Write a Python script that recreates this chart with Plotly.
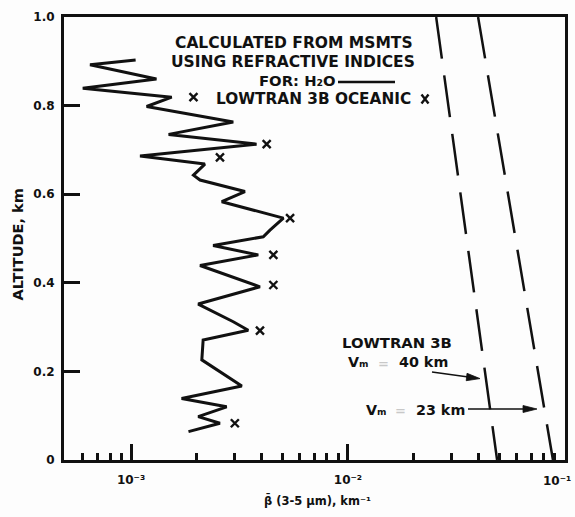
import plotly.graph_objects as go

# ---- data ----
# measured profile (solid line): extinction (km^-1) vs altitude (km)
msmt_beta = [1.05e-3, 6.47e-4, 1.31e-3, 5.99e-4, 1.54e-3, 1.18e-3, 2.96e-3, 1.49e-3,
             3.79e-3, 1.10e-3, 2.19e-3, 1.94e-3, 2.08e-3, 3.35e-3, 2.62e-3, 5.04e-3,
             4.37e-3, 4.07e-3, 2.39e-3, 3.86e-3, 2.08e-3, 3.93e-3, 2.04e-3, 2.96e-3,
             3.47e-3, 2.15e-3, 2.12e-3, 3.24e-3, 1.71e-3, 2.76e-3, 2.04e-3, 2.57e-3,
             1.84e-3]
msmt_alt = [0.903, 0.892, 0.860, 0.839, 0.819, 0.798, 0.763, 0.735,
            0.713, 0.686, 0.668, 0.643, 0.632, 0.606, 0.583, 0.546,
            0.519, 0.504, 0.484, 0.463, 0.439, 0.391, 0.352, 0.312,
            0.293, 0.271, 0.226, 0.167, 0.139, 0.120, 0.098, 0.083,
            0.064]

# LOWTRAN 3B oceanic points (X symbols)
ocean_beta = [1.94e-3, 4.22e-3, 2.57e-3, 5.41e-3, 4.53e-3, 4.53e-3, 3.93e-3, 3.01e-3]
ocean_alt = [0.819, 0.713, 0.683, 0.546, 0.463, 0.395, 0.292, 0.083]

# LOWTRAN 3B model lines (dashed)
vm40_beta = [0.0255, 0.0487]
vm40_alt = [1.0, 0.0]
vm23_beta = [0.0398, 0.0881]
vm23_alt = [1.0, 0.0]

# tick labels
x_major_vals = [1e-3, 1e-2, 1e-1]
x_major_text = ["10⁻³", "10⁻²", "10⁻¹"]
x_minor_vals = [6e-4, 7e-4, 8e-4, 9e-4,
                2e-3, 3e-3, 4e-3, 5e-3, 6e-3, 7e-3, 8e-3, 9e-3,
                2e-2, 3e-2, 4e-2, 5e-2, 6e-2, 7e-2, 8e-2, 9e-2]
y_vals = [0, 0.2, 0.4, 0.6, 0.8, 1.0]
y_text = ["0", "0.2", "0.4", "0.6", "0.8", "1.0"]

INK = "#111111"
FONT = "DejaVu Sans"

W, H = 575, 517
L, R, T, B = 64, 10, 17, 57
PW, PH = W - L - R, H - T - B


def px(xp):
    return (xp - L) / PW


def py(yp):
    return (H - B - yp) / PH


def bold(size, family=FONT, color=INK):
    return dict(family=family, size=size, color=color, weight="bold")


fig = go.Figure()

fig.add_trace(go.Scatter(x=msmt_beta, y=msmt_alt, mode="lines",
                         line=dict(color=INK, width=3), showlegend=False,
                         hoverinfo="skip"))
fig.add_trace(go.Scatter(x=ocean_beta, y=ocean_alt, mode="markers",
                         marker=dict(symbol="x-thin", size=8,
                                     line=dict(color=INK, width=2.4)),
                         showlegend=False, hoverinfo="skip"))
for bx, by in ((vm40_beta, vm40_alt), (vm23_beta, vm23_alt)):
    fig.add_trace(go.Scatter(x=bx, y=by, mode="lines",
                             line=dict(color=INK, width=2.5, dash="42px,17px"),
                             showlegend=False, hoverinfo="skip"))

# the last major tick sits on the right frame; its label is drawn separately
fig.update_xaxes(type="log", range=[-3.309, -0.9995], automargin=False,
                 tickmode="array", tickvals=x_major_vals[:2], ticktext=x_major_text[:2],
                 ticks="inside", ticklen=16, tickwidth=3, tickcolor=INK,
                 minor=dict(tickmode="array", tickvals=x_minor_vals, ticks="inside",
                            ticklen=7, tickwidth=3, tickcolor=INK, showgrid=False),
                 showline=True, linewidth=3, linecolor=INK, mirror=True,
                 showgrid=False, zeroline=False, ticklabelstandoff=7,
                 tickfont=bold(12))
fig.update_yaxes(range=[0, 1], automargin=False,
                 tickmode="array", tickvals=y_vals, ticktext=y_text,
                 ticks="inside", ticklen=16, tickwidth=3, tickcolor=INK,
                 showline=True, linewidth=3, linecolor=INK, mirror=True,
                 showgrid=False, zeroline=False, ticklabelstandoff=4,
                 ticklabeloverflow="allow", tickfont=bold(12))

anns = [
    dict(x=px(293.5), y=py(43), text="CALCULATED FROM MSMTS", xanchor="center", font=bold(15.5)),
    dict(x=px(292.5), y=py(62), text="USING REFRACTIVE INDICES", xanchor="center", font=bold(15.5)),
    dict(x=px(257), y=py(80), text="FOR: H₂O", xanchor="left", font=bold(14.8)),
    dict(x=px(214), y=py(99), text="LOWTRAN 3B OCEANIC", xanchor="left", font=bold(15.3)),
    dict(x=px(340), y=py(343), text="LOWTRAN 3B", xanchor="left", font=bold(14.8)),
    dict(x=px(17.5), y=py(245), text="ALTITUDE, km", textangle=-90,
         xanchor="center", font=bold(14.5)),
    dict(x=px(317), y=py(500), text="β\u0304 (3-5 μm), km⁻¹",
         xanchor="center", font=bold(11.5)),
    dict(x=px(573), y=py(481), text=x_major_text[2], xanchor="right", font=bold(12)),
    # faint "=" signs of the model labels
    dict(x=px(383), y=py(363), text="=", xanchor="center", font=bold(13, color="#c8c8c8")),
    dict(x=px(400), y=py(410), text="=", xanchor="center", font=bold(13, color="#c8c8c8")),
]
for a in anns:
    fig.add_annotation(xref="paper", yref="paper", yanchor="middle",
                       showarrow=False, **a)

# model-line labels
fig.add_annotation(xref="paper", yref="paper", x=px(346), y=py(362), text="Vₘ",
                   xanchor="left", yanchor="middle", showarrow=False, font=bold(14.3))
fig.add_annotation(xref="paper", yref="paper", x=px(397), y=py(362), text="40 km",
                   xanchor="left", yanchor="middle", showarrow=False, font=bold(14.3))
fig.add_annotation(xref="paper", yref="paper", x=px(364), y=py(410), text="Vₘ",
                   xanchor="left", yanchor="middle", showarrow=False, font=bold(14.3))
fig.add_annotation(xref="paper", yref="paper", x=px(414), y=py(410), text="23 km",
                   xanchor="left", yanchor="middle", showarrow=False, font=bold(14.3))

# arrows pointing to the model lines
fig.add_shape(type="line", xref="paper", yref="paper",
              x0=px(432), y0=py(372), x1=px(472), y1=py(377.5),
              line=dict(color=INK, width=1.3))
fig.add_shape(type="path", xref="paper", yref="paper", fillcolor=INK,
              path=(f"M {px(480)},{py(378.6)} L {px(467)},{py(373.3)} "
                    f"L {px(466.2)},{py(380.7)} Z"),
              line=dict(color=INK, width=0.8))
fig.add_shape(type="line", xref="paper", yref="paper",
              x0=px(468), y0=py(409), x1=px(528), y1=py(409),
              line=dict(color=INK, width=1.3))
fig.add_shape(type="path", xref="paper", yref="paper", fillcolor=INK,
              path=(f"M {px(537)},{py(409)} L {px(523)},{py(405.5)} "
                    f"L {px(523)},{py(412.5)} Z"),
              line=dict(color=INK, width=0.8))

# legend samples
fig.add_shape(type="line", xref="paper", yref="paper",
              x0=px(338), x1=px(395), y0=py(82), y1=py(82),
              line=dict(color=INK, width=2.5))
fig.add_shape(type="path", xref="paper", yref="paper",
              path=(f"M {px(421.5)},{py(94.5)} L {px(428.5)},{py(103.5)} "
                    f"M {px(428.5)},{py(94.5)} L {px(421.5)},{py(103.5)}"),
              line=dict(color=INK, width=2.4))

fig.update_layout(width=W, height=H,
                  margin=dict(l=L, r=R, t=T, b=B, autoexpand=False),
                  paper_bgcolor="#fdfdfd", plot_bgcolor="#fdfdfd",
                  showlegend=False)

fig.write_html("out.html", config={"displayModeBar": False},
               post_script="document.body.style.margin='0';document.body.style.padding='0';")
